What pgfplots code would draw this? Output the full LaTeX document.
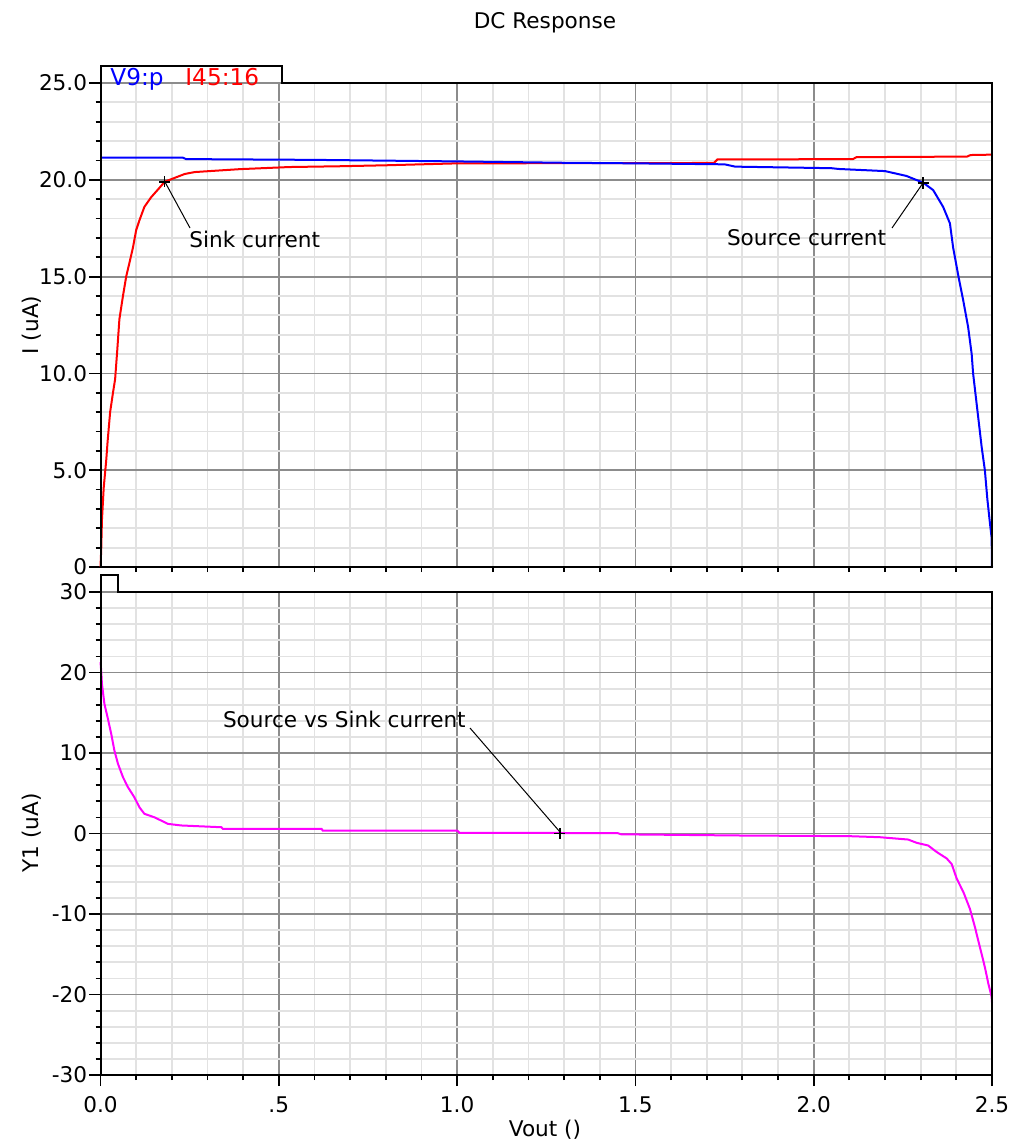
\documentclass[border=0pt]{standalone}
\usepackage{pgfplots}
\pgfplotsset{compat=1.18}
\usepackage{fontspec}
\setmainfont{DejaVu Sans}
\definecolor{majgrid}{RGB}{140,140,140}
\definecolor{mingrid}{RGB}{226,226,226}
\definecolor{vblue}{RGB}{0,0,255}
\definecolor{ired}{RGB}{255,0,0}
\definecolor{ymag}{RGB}{255,0,255}
\begin{document}
\fontsize{10.8}{13}\selectfont
\begin{tikzpicture}
\path[use as bounding box] (0,0) rectangle (508pt,-573pt);
\pgfplotsset{common/.style={
  scale only axis, width=445.75pt, xmin=0, xmax=2.5,
  axis line style={draw=none},
  tick align=outside, xtick pos=bottom, ytick pos=left,
  major tick length=5.5pt, minor tick length=2.5pt,
  tick style={black, line width=0.9pt},
  grid=both,
  major grid style={majgrid, line width=0.9pt},
  minor grid style={mingrid, line width=0.9pt},
  xtick={0,0.5,1,1.5,2,2.5}, minor x tick num=4,
  minor y tick num=4,
  clip=false,
  yticklabel style={inner sep=1pt},
}}
% ---------- top axis ----------
\begin{axis}[common, at={(50.25pt,-283.5pt)}, anchor=south west, height=242pt,
  ymin=0, ymax=25, ytick={0,5,10,15,20,25},
  yticklabels={0,5.0,10.0,15.0,20.0,25.0},
  xmajorticks=false, xminorticks=false]
\addplot[ired, line width=1pt] coordinates {
(0,0) (0.002,0.9) (0.004,2.4) (0.009,4.1) (0.016,5.5) (0.020,6.5) (0.027,8.0)
(0.035,9.0) (0.041,9.7) (0.047,11.2) (0.053,12.8) (0.063,14.0) (0.072,15.0)
(0.081,15.7) (0.091,16.5) (0.100,17.4) (0.109,17.9) (0.123,18.6) (0.142,19.1)
(0.166,19.6) (0.180,19.9) (0.208,20.1) (0.236,20.3) (0.264,20.4) (0.39,20.55)
(0.53,20.66) (0.67,20.7) (0.8,20.75) (1.0,20.85) (1.72,20.87) (1.73,21.05)
(2.11,21.07) (2.12,21.17) (2.43,21.2) (2.44,21.28) (2.5,21.3)};
\addplot[vblue, line width=1pt] coordinates {
(0,21.15) (0.23,21.15) (0.24,21.07) (0.6,21.03) (1.0,20.95) (1.3,20.88)
(1.5,20.85) (1.75,20.8) (1.78,20.68) (2.05,20.6) (2.07,20.56) (2.2,20.45)
(2.26,20.2) (2.307,19.85) (2.335,19.47) (2.363,18.6) (2.382,17.75) (2.391,16.5)
(2.406,15.0) (2.419,13.8) (2.433,12.4) (2.443,11.0) (2.447,10.0) (2.459,8.1)
(2.471,6.2) (2.480,5.0) (2.487,3.5) (2.494,2.3) (2.499,1.5) (2.5,0)};
\addplot[black, only marks, mark=+, mark size=2.8pt, mark options={line width=0.8pt}]
  coordinates {(0.18,19.9) (2.307,19.84)};
\end{axis}
% ---------- bottom axis ----------
\begin{axis}[common, at={(50.25pt,-537.5pt)}, anchor=south west, height=241.5pt,
  ymin=-30, ymax=30, ytick={-30,-20,-10,0,10,20,30},
  yticklabels={-30,-20,-10,0,10,20,30},
  xticklabels={0.0,.5,1.0,1.5,2.0,2.5},
  xticklabel style={yshift=-1.5pt}]
\addplot[ymag, line width=1pt] coordinates {
(0,21.3) (0.002,20.2) (0.004,18.6) (0.011,16.1) (0.02,14.4) (0.030,12.4)
(0.039,10.3) (0.049,8.66) (0.063,7.0) (0.077,5.75) (0.095,4.5) (0.109,3.27)
(0.123,2.45) (0.152,2.0) (0.189,1.2) (0.226,1.0) (0.339,0.78) (0.343,0.58)
(0.62,0.58) (0.623,0.37) (1.0,0.37) (1.007,0.09) (1.45,0.05) (1.46,-0.1)
(1.8,-0.25) (2.101,-0.33) (2.186,-0.46) (2.265,-0.75) (2.289,-1.16)
(2.321,-1.49) (2.345,-2.3) (2.373,-3.1) (2.387,-3.8) (2.401,-5.6) (2.420,-7.3)
(2.438,-9.35) (2.452,-11.6) (2.466,-14.1) (2.480,-16.6) (2.490,-18.7)
(2.499,-20.3) (2.5,-21.0)};
\addplot[black, only marks, mark=+, mark size=2.8pt, mark options={line width=0.8pt}]
  coordinates {(1.288,0)};
\end{axis}
% ---------- frames with tabs ----------
\draw[black, line width=1pt] (50.25pt,-283.5pt) -- (50.25pt,-33pt) -- (141pt,-33pt)
  -- (141pt,-41.5pt) -- (496pt,-41.5pt) -- (496pt,-283.5pt) -- cycle;
\draw[black, line width=1pt] (50.25pt,-537.5pt) -- (50.25pt,-287.5pt) -- (59pt,-287.5pt)
  -- (59pt,-296pt) -- (496pt,-296pt) -- (496pt,-537.5pt) -- cycle;
% ---------- legend ----------
\node[anchor=base west, inner sep=0pt, text=vblue, font=\fontsize{11.6}{13}\selectfont] at (55pt,-42.5pt) {V9:p};
\node[anchor=base west, inner sep=0pt, text=ired, font=\fontsize{11.6}{13}\selectfont] at (92.5pt,-42.5pt) {I45:16};
% ---------- annotations ----------
\draw[black, line width=0.5pt] (82.5pt,-91pt) -- (95pt,-114pt);
\node[anchor=base west, inner sep=0pt] at (94.5pt,-123.5pt) {Sink current};
\draw[black, line width=0.5pt] (461.5pt,-91.5pt) -- (446pt,-114pt);
\node[anchor=base west, inner sep=0pt] at (363.3pt,-122.5pt) {Source current};
\draw[black, line width=0.5pt] (280pt,-416pt) -- (235pt,-364pt);
\node[anchor=base west, inner sep=0pt] at (111.3pt,-363.5pt) {Source vs Sink current};
% ---------- titles ----------
\node[anchor=base, inner sep=0pt] at (272.5pt,-14pt) {DC Response};
\node[rotate=90, inner sep=0pt] at (16pt,-162.5pt) {I (uA)};
\node[rotate=90, inner sep=0pt] at (16pt,-416.5pt) {Y1 (uA)};
\node[inner sep=0pt] at (272.5pt,-565pt) {Vout ()};
\end{tikzpicture}
\end{document}
